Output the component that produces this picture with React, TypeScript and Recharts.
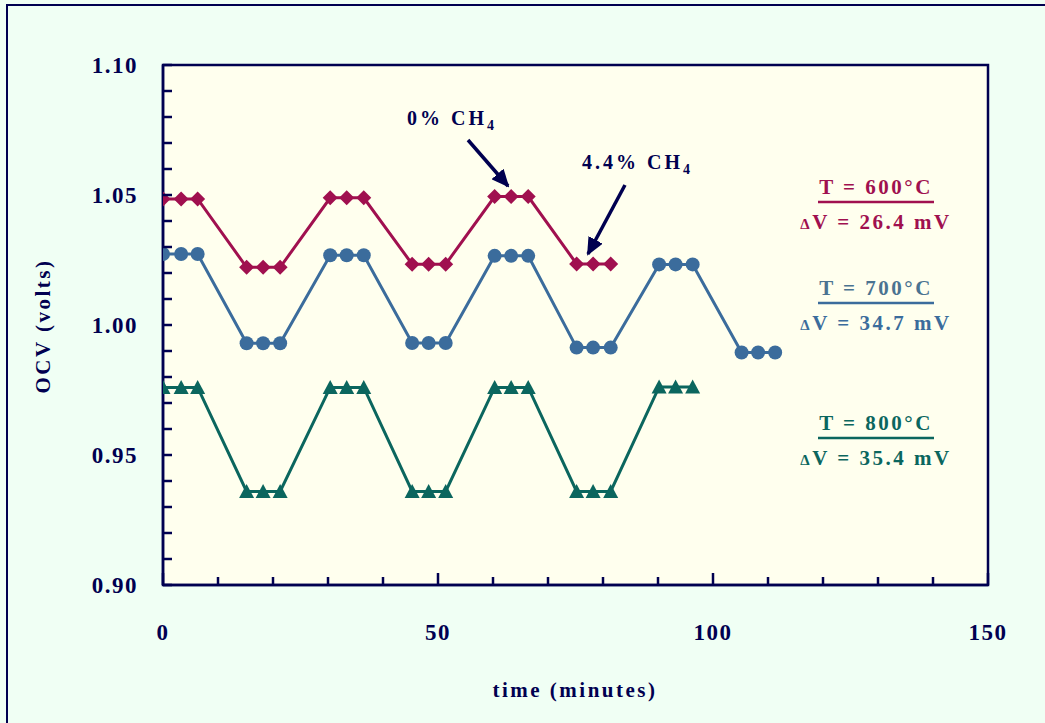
import React from 'react';
import { LineChart, Line, XAxis, YAxis, ReferenceArea } from 'recharts';

// sample times (minutes) and open-circuit voltages (volts) per furnace temperature
const times600 = [0, 3.3, 6.3, 15.2, 18.2, 21.3, 30.4, 33.4, 36.5, 45.3, 48.3, 51.4, 60.3, 63.3, 66.4, 75.2, 78.2, 81.4];
const ocv600 = [
  1.0485, 1.0485, 1.0485, 1.0222, 1.0222, 1.0222, 1.0489, 1.0489, 1.0489,
  1.0234, 1.0234, 1.0234, 1.0494, 1.0494, 1.0494, 1.0235, 1.0235, 1.0235,
];

const times700 = [
  0, 3.3, 6.3, 15.2, 18.2, 21.3, 30.4, 33.4, 36.5, 45.3, 48.3, 51.4,
  60.3, 63.3, 66.4, 75.2, 78.2, 81.4, 90.2, 93.2, 96.3, 105.2, 108.2, 111.3,
];
const ocv700 = [
  1.0273, 1.0273, 1.0273, 0.993, 0.993, 0.993, 1.0268, 1.0268, 1.0268,
  0.9931, 0.9931, 0.9931, 1.0266, 1.0266, 1.0266, 0.9913, 0.9913, 0.9913,
  1.0233, 1.0233, 1.0233, 0.9894, 0.9894, 0.9894,
];

const times800 = [0, 3.3, 6.3, 15.2, 18.2, 21.3, 30.4, 33.4, 36.5, 45.3, 48.3, 51.4, 60.3, 63.3, 66.4, 75.2, 78.2, 81.4, 90.2, 93.2, 96.3];
const ocv800 = [
  0.976, 0.976, 0.976, 0.936, 0.936, 0.936, 0.976, 0.976, 0.976,
  0.936, 0.936, 0.936, 0.976, 0.976, 0.976, 0.936, 0.936, 0.936,
  0.9762, 0.9762, 0.9762,
];

const xTicks = [0, 10, 20, 30, 40, 50, 60, 70, 80, 90, 100, 110, 120, 130, 140, 150];
const xLabels = [0, 50, 100, 150];
const yTicks = [
  0.9, 0.91, 0.92, 0.93, 0.94, 0.95, 0.96, 0.97, 0.98, 0.99, 1.0,
  1.01, 1.02, 1.03, 1.04, 1.05, 1.06, 1.07, 1.08, 1.09, 1.1,
];
const yLabels = [0.9, 0.95, 1.0, 1.05, 1.1];

const C600 = '#a0104f';
const C700 = '#3b6c9c';
const C800 = '#0b665e';
const NAVY = '#000050';
const FONT = '"Liberation Serif", "Times New Roman", serif';

const toPoints = (t: number[], v: number[]) => t.map((x, i) => ({ t: x, v: v[i] }));
const data600 = toPoints(times600, ocv600);
const data700 = toPoints(times700, ocv700);
const data800 = toPoints(times800, ocv800);

const isIn = (list: number[], v: number) => list.some(l => Math.abs(l - v) < 1e-6);

const YTick = (props: any) => {
  const { x, y, payload } = props;
  const major = isIn(yLabels, payload.value);
  return (
    <g>
      <line x1={x} y1={y} x2={x + 9} y2={y} stroke={NAVY} strokeWidth={2.5} />
      {major && (
        <text x={x - 25} y={y + 8} textAnchor="end" fill={NAVY} fontFamily={FONT}
          fontWeight="bold" fontSize={23} style={{ letterSpacing: 1.5 }}>
          {payload.value.toFixed(2)}
        </text>
      )}
    </g>
  );
};

const XTick = (props: any) => {
  const { x, y, payload } = props;
  const major = isIn(xLabels, payload.value);
  return (
    <g>
      <line x1={x} y1={y} x2={x} y2={y - (major ? 12 : 8)} stroke={NAVY} strokeWidth={2.5} />
      {major && (
        <text x={x} y={y + 55} textAnchor="middle" fill={NAVY} fontFamily={FONT}
          fontWeight="bold" fontSize={23} style={{ letterSpacing: 1.5 }}>
          {payload.value}
        </text>
      )}
    </g>
  );
};

const Diamond = (p: any) => {
  const { cx, cy } = p;
  if (cx == null || cy == null) return null;
  const r = 7.5;
  return <path d={`M${cx},${cy - r}L${cx + r},${cy}L${cx},${cy + r}L${cx - r},${cy}Z`} fill={C600} />;
};

const Dot = (p: any) => {
  const { cx, cy } = p;
  if (cx == null || cy == null) return null;
  return <circle cx={cx} cy={cy} r={7} fill={C700} />;
};

const Tri = (p: any) => {
  const { cx, cy } = p;
  if (cx == null || cy == null) return null;
  const w = 7.5, h = 13;
  return <path d={`M${cx},${cy - h / 2 - 1}L${cx + w},${cy + h / 2}L${cx - w},${cy + h / 2}Z`} fill={C800} />;
};

const TempLabel = ({ y, temp, dv, color, tColor }: { y: number; temp: string; dv: string; color: string; tColor?: string }) => (
  <g fontFamily={FONT} fontWeight="bold">
    <text x={876} y={y} textAnchor="middle" fontSize={21} fill={tColor || color} style={{ letterSpacing: 2.5 }}>
      {`T = ${temp}°C`}
    </text>
    <line x1={818} x2={934} y1={y + 8} y2={y + 8} stroke={color} strokeWidth={2.5} />
    <text x={876} y={y + 35} textAnchor="middle" fontSize={21} fill={color} style={{ letterSpacing: 2.5 }}>
      <tspan fontSize={15}>Δ</tspan>
      {`V = ${dv} mV`}
    </text>
  </g>
);

const App: React.FC = () => {
  return (
    <div style={{ position: 'absolute', left: 0, top: 0, width: 1045, height: 723, background: '#f0fff4', overflow: 'hidden' }}>
      <div style={{ position: 'absolute', left: 6, top: 4, width: 1100, height: 800, borderLeft: `2.5px solid ${NAVY}`, borderTop: `2.5px solid ${NAVY}` }} />
      <div style={{ position: 'absolute', left: 0, top: 0 }}>
        <LineChart width={1045} height={723} margin={{ top: 65, right: 57, left: 83, bottom: 78 }}>
          <ReferenceArea x1={0} x2={150} y1={0.9} y2={1.1} fill="#ffffee" fillOpacity={1}
            stroke={NAVY} strokeWidth={2.5} ifOverflow="visible" />
          <XAxis dataKey="t" type="number" domain={[0, 150]} ticks={xTicks} interval={0}
            allowDataOverflow height={60} tickSize={0} tickMargin={0} tickLine={false}
            axisLine={{ stroke: NAVY, strokeWidth: 2.5 }} tick={(p: any) => <XTick {...p} />} />
          <YAxis type="number" domain={[0.9, 1.1]} ticks={yTicks} interval={0}
            allowDataOverflow width={80} tickSize={0} tickMargin={0} tickLine={false}
            axisLine={{ stroke: NAVY, strokeWidth: 2.5 }} tick={(p: any) => <YTick {...p} />} />
          <Line data={data600} dataKey="v" name="600" stroke={C600} strokeWidth={3}
            dot={(p: any) => <Diamond key={`d6-${p.index}`} {...p} />} activeDot={false} isAnimationActive={false} />
          <Line data={data700} dataKey="v" name="700" stroke={C700} strokeWidth={3}
            dot={(p: any) => <Dot key={`d7-${p.index}`} {...p} />} activeDot={false} isAnimationActive={false} />
          <Line data={data800} dataKey="v" name="800" stroke={C800} strokeWidth={3}
            dot={(p: any) => <Tri key={`d8-${p.index}`} {...p} />} activeDot={false} isAnimationActive={false} />
        </LineChart>
      </div>
      <svg width={1045} height={723} style={{ position: 'absolute', left: 0, top: 0, pointerEvents: 'none' }}>
        <defs>
          <marker id="head" markerUnits="userSpaceOnUse" markerWidth={18} markerHeight={16}
            refX={16} refY={8} orient="auto">
            <path d="M0,0L18,8L0,16Z" fill={NAVY} />
          </marker>
        </defs>
        <g fontFamily={FONT} fontWeight="bold" fill={NAVY} fontSize={20}>
          <text x={407} y={125} style={{ letterSpacing: 3 }}>
            0% CH<tspan fontSize={14} dy={5}>4</tspan>
          </text>
          <text x={582} y={169} style={{ letterSpacing: 3 }}>
            4.4% CH<tspan fontSize={14} dy={5}>4</tspan>
          </text>
        </g>
        <line x1={468} y1={140} x2={508} y2={186} stroke={NAVY} strokeWidth={3.5} markerEnd="url(#head)" />
        <line x1={625} y1={185} x2={588} y2={254} stroke={NAVY} strokeWidth={3.5} markerEnd="url(#head)" />

        <TempLabel y={194} temp="600" dv="26.4" color={C600} />
        <TempLabel y={295} temp="700" dv="34.7" color={C700} tColor="#4a7391" />
        <TempLabel y={430} temp="800" dv="35.4" color={C800} />

        <text x={575} y={697} textAnchor="middle" fill={NAVY} fontFamily={FONT} fontWeight="bold"
          fontSize={21} style={{ letterSpacing: 2.5 }}>time (minutes)</text>
        <text x={0} y={0} transform="translate(50,326) rotate(-90)" textAnchor="middle" fill={NAVY}
          fontFamily={FONT} fontWeight="bold" fontSize={21} style={{ letterSpacing: 2.5 }}>OCV (volts)</text>
      </svg>
    </div>
  );
};

export default App;
